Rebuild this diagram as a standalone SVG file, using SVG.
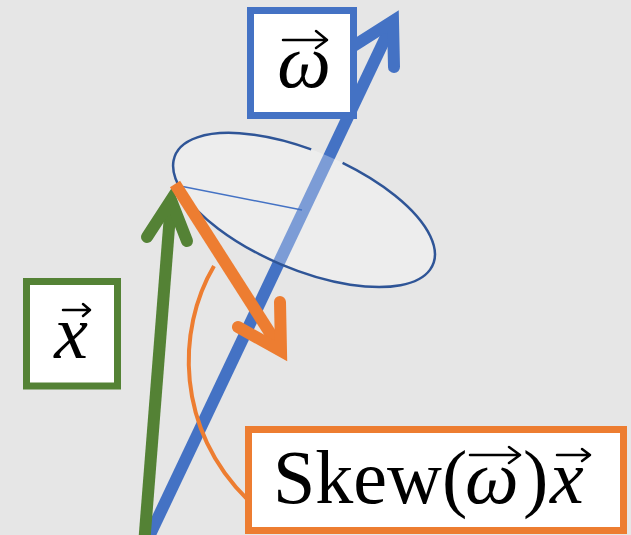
<svg xmlns="http://www.w3.org/2000/svg" width="631" height="535" viewBox="0 0 631 535">
<defs>
<style>
.shaft{fill:none;stroke-width:12;stroke-linecap:butt}
.head{fill:none;stroke-width:12;stroke-linecap:round;stroke-linejoin:miter;stroke-miterlimit:10}
.box{fill:#fff;stroke-width:7}
.lbl{font-family:"Liberation Serif","DejaVu Serif",serif;font-size:76px;fill:#000}
.it{font-style:italic}
.acc{fill:none;stroke:#000;stroke-width:2.5;stroke-linecap:round;stroke-linejoin:round}
</style>
</defs>
<rect width="631" height="535" fill="#e6e6e6"/>
<g id="connectors">
  <g id="omega-vector">
    <line class="shaft" x1="145" y1="545" x2="393" y2="22" stroke="#4472c4"/>
    <path class="head" d="M352,47 L393,21 L394,67" stroke="#4472c4"/>
  </g>
  <g id="circle">
    <ellipse cx="304" cy="210" rx="140" ry="59" transform="rotate(23 304 210)" fill="#fff" fill-opacity="0.3"/>
    <path d="M17.06,-58.56 A140 59 0 1 1 -17.06,-58.56" transform="translate(304 210) rotate(23)" fill="none" stroke="#2f5597" stroke-width="2.5"/>
    <line x1="175" y1="185" x2="302" y2="210" stroke="#4472c4" stroke-width="1.5"/>
  </g>
  <g id="x-vector">
    <line class="shaft" x1="144" y1="545" x2="171" y2="202" stroke="#548235"/>
    <path class="head" d="M147,237 L171,200 L187,241" stroke="#548235"/>
  </g>
  <g id="skew-vector">
    <line class="shaft" x1="175" y1="184" x2="279" y2="347" stroke="#ed7d31"/>
    <path class="head" d="M238,327 L281,351 L280,302" stroke="#ed7d31"/>
  </g>
  <path id="arc" d="M214,266 C176,330 176,430 248,500" fill="none" stroke="#ed7d31" stroke-width="4"/>
</g>
<g id="node-omega">
  <rect class="box" x="250.5" y="10.5" width="103" height="105" stroke="#4472c4"/>
  <text class="lbl it" x="304" y="87" text-anchor="middle">ω</text>
  <path class="acc" d="M283,40 H327 M316,31 L327,40 L316,48"/>
</g>
<g id="node-x">
  <rect class="box" x="26.5" y="281.5" width="91" height="104.5" stroke="#548235"/>
  <text class="lbl it" x="71" y="358" text-anchor="middle">x</text>
  <path class="acc" d="M63,310 H90 M83,304 L90,310 L83,316"/>
</g>
<g id="node-skew">
  <rect class="box" x="248.5" y="429.5" width="375" height="101" stroke="#ed7d31"/>
  <text class="lbl" x="273" y="503">Skew(<tspan class="it" x="465">ω</tspan><tspan x="523">)</tspan><tspan class="it" x="550">x</tspan></text>
  <path class="acc" d="M470,455 H520 M509,447 L520,455 L509,463"/>
  <path class="acc" d="M557,455 H590 M582,449 L590,455 L582,461"/>
</g>
</svg>
